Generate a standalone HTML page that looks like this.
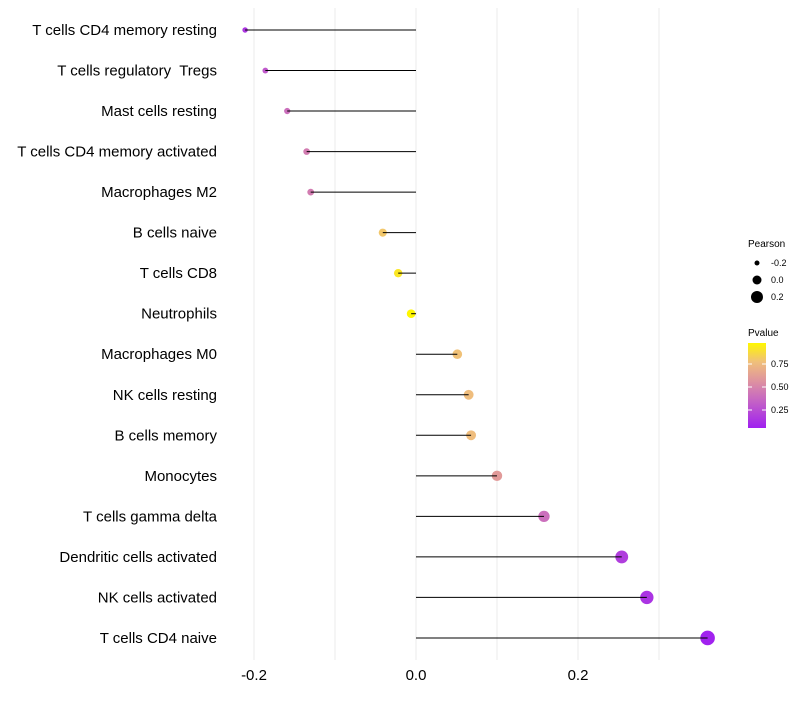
<!DOCTYPE html>
<html><head><meta charset="utf-8"><style>
body{margin:0;background:#fff;font-family:"Liberation Sans",sans-serif}
</style></head><body>
<svg id="chart" width="800" height="700" xmlns="http://www.w3.org/2000/svg">
<defs><linearGradient id="pg" x1="0" y1="1" x2="0" y2="0">
<stop offset="0" stop-color="#A020F0"/><stop offset="0.35" stop-color="#C86AC0"/><stop offset="0.55" stop-color="#DE92A0"/><stop offset="0.78" stop-color="#F0C07A"/><stop offset="1" stop-color="#FFF700"/></linearGradient></defs>
<g id="grid"></g><g id="marks"></g><g id="labels"></g>
<g font-size="9">
<text x="748" y="247" font-size="10">Pearson</text>
<circle cx="757" cy="263" r="2.5" fill="#000"/><text x="771" y="266">-0.2</text>
<circle cx="757" cy="280" r="4.5" fill="#000"/><text x="771" y="283">0.0</text>
<circle cx="757" cy="297" r="6" fill="#000"/><text x="771" y="300">0.2</text>
</g>
<g font-size="9">
<text x="748" y="336" font-size="10">Pvalue</text>
<rect x="748" y="343" width="18" height="85" fill="url(#pg)"/>
<line x1="748" x2="752" y1="364" y2="364" stroke="#fff"/><line x1="762" x2="766" y1="364" y2="364" stroke="#fff"/>
<line x1="748" x2="752" y1="387" y2="387" stroke="#fff"/><line x1="762" x2="766" y1="387" y2="387" stroke="#fff"/>
<line x1="748" x2="752" y1="410" y2="410" stroke="#fff"/><line x1="762" x2="766" y1="410" y2="410" stroke="#fff"/>
<text x="771" y="367">0.75</text><text x="771" y="390">0.50</text><text x="771" y="413">0.25</text>
</g>
</svg>
<script>
const categories=["T cells CD4 memory resting","T cells regulatory\u00a0 Tregs","Mast cells resting","T cells CD4 memory activated","Macrophages M2","B cells naive","T cells CD8","Neutrophils","Macrophages M0","NK cells resting","B cells memory","Monocytes","T cells gamma delta","Dendritic cells activated","NK cells activated","T cells CD4 naive"];
const pearson=[-0.211,-0.186,-0.159,-0.135,-0.130,-0.041,-0.022,-0.006,0.051,0.065,0.068,0.100,0.158,0.254,0.285,0.360];
const pvalues=[0.15,0.30,0.40,0.46,0.46,0.80,0.92,0.98,0.78,0.76,0.76,0.60,0.40,0.18,0.14,0.06];
const xTicks=[-0.2,0,0.2];
const xTickLabels=["-0.2","0.0","0.2"];
const NS="http://www.w3.org/2000/svg";
const xs=v=>416+v*810;
const ys=i=>30+i*40.53;
const rs=v=>Math.max(1.8,4.4+v*8);
const stops=[[0,[160,32,240]],[0.35,[200,106,192]],[0.55,[222,146,160]],[0.78,[240,192,122]],[1,[255,247,0]]];
function col(p){const t=(p-0.05)/(0.98-0.05);const c=Math.max(0,Math.min(1,t));
for(let k=1;k<stops.length;k++){if(c<=stops[k][0]){const a=stops[k-1],b=stops[k];const f=(c-a[0])/(b[0]-a[0]);
return "rgb("+a[1].map((x,j)=>Math.round(x+(b[1][j]-x)*f)).join(",")+")";}}return "rgb(255,247,0)";}
function mk(t,at,parent){const e=document.createElementNS(NS,t);for(const k in at)e.setAttribute(k,at[k]);parent.appendChild(e);return e;}
const g=document.getElementById("grid"),m=document.getElementById("marks"),lb=document.getElementById("labels");
[-0.2,-0.1,0,0.1,0.2,0.3].forEach(v=>{const l=mk("line",{x1:xs(v),x2:xs(v),y1:8,y2:660,stroke:"#ebebeb","stroke-width":1},g);

});
xTicks.forEach((v,i)=>{const t=mk("text",{x:xs(v),y:680,"text-anchor":"middle","font-size":15,fill:"#000"},lb);t.textContent=xTickLabels[i];

});
categories.forEach((c,i)=>{const y=ys(i);
const t=mk("text",{x:217,y:y+5,"text-anchor":"end","font-size":15,fill:"#000"},lb);t.textContent=c;


const cir=mk("circle",{cx:xs(pearson[i]),cy:y,r:rs(pearson[i]),fill:col(pvalues[i])},m);


const l=mk("line",{x1:xs(0),x2:xs(pearson[i]),y1:y,y2:y,stroke:"#000","stroke-width":1},m);

});
</script>
</body></html>
